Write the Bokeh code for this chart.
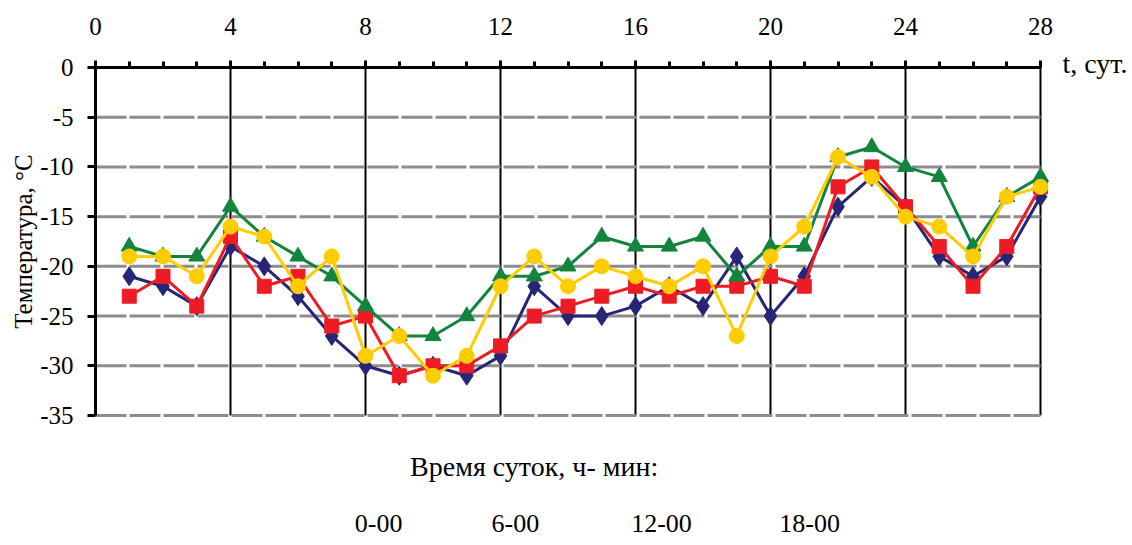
from bokeh.plotting import figure
from bokeh.models import FixedTicker, Range1d
from bokeh.core.properties import value
from bokeh.embed import file_html
from bokeh.resources import INLINE

days = list(range(1, 29))
t_0000 = [-21, -22, -24, -18, -20, -23, -27, -30, -31, -30, -31, -29, -22, -25,
          -25, -24, -22, -24, -19, -25, -21, -14, -11, -14, -19, -21, -19, -13]
t_0600 = [-23, -21, -24, -17, -22, -21, -26, -25, -31, -30, -30, -28, -25, -24,
          -23, -22, -23, -22, -22, -21, -22, -12, -10, -14, -18, -22, -18, -12]
t_1200 = [-18, -19, -19, -14, -17, -19, -21, -24, -27, -27, -25, -21, -21, -20,
          -17, -18, -18, -17, -21, -18, -18, -9, -8, -10, -11, -18, -13, -11]
t_1800 = [-19, -19, -21, -16, -17, -22, -19, -29, -27, -31, -29, -22, -19, -22,
          -20, -21, -22, -20, -27, -19, -16, -9, -11, -15, -16, -19, -13, -12]

legend_title = "Время суток,  ч- мин:"
legend_labels = ["0-00", "6-00", "12-00", "18-00"]
x_ticks = [0, 4, 8, 12, 16, 20, 24, 28]
y_ticks = [0, -5, -10, -15, -20, -25, -30, -35]
y_tick_labels = ["0", "-5", "-10", "-15", "-20", "-25", "-30", "-35"]
x_label = "t, сут."
y_label = "Температура, °C"

FONT = "Liberation Serif"

# canvas geometry (pixels); the frame covers the whole canvas and the axes are
# pinned at the data origin so that all texts can live inside the frame
W, H = 1132, 545
FL, FT, FW, FH = 95, 67, 945, 348       # plotting area of the chart
sx = FW / (x_ticks[-1] - x_ticks[0])
sy = FH / (y_ticks[0] - y_ticks[-1])
x_range = Range1d(-FL / sx, (W - FL) / sx)
y_range = Range1d(-(H - FT) / sy, FT / sy)

p = figure(width=W, height=H, x_range=x_range, y_range=y_range,
           output_backend="svg", toolbar_location=None,
           x_axis_location="above", y_axis_location="left",
           min_border_left=0, min_border_right=0, min_border_top=0, min_border_bottom=0)
p.title.visible = False
p.outline_line_color = None
p.xgrid.visible = False
p.ygrid.visible = False

# grid lines restricted to the chart area
p.segment(x0=x_ticks[1:], y0=y_ticks[-1], x1=x_ticks[1:], y1=y_ticks[0],
          line_color="black", line_width=2)
p.segment(x0=x_ticks[0], y0=y_ticks[1:], x1=x_ticks[-1], y1=y_ticks[1:],
          line_color="#8c8c8c", line_width=3, line_dash="31 3")

xa = p.xaxis[0]
xa.fixed_location = 0
xa.ticker = FixedTicker(ticks=x_ticks, minor_ticks=list(range(0, 29)))
xa.bounds = (x_ticks[0], x_ticks[-1])
xa.axis_line_width = 3
xa.axis_line_color = "black"
xa.major_tick_out = 7
xa.major_tick_in = 0
xa.minor_tick_out = 6
xa.minor_tick_in = 0
xa.major_tick_line_width = 3
xa.minor_tick_line_width = 3
xa.major_label_text_font = FONT
xa.major_label_text_font_size = "25px"
xa.major_label_text_color = "black"
xa.major_label_standoff = 26

ya = p.yaxis[0]
ya.fixed_location = 0
ya.ticker = FixedTicker(ticks=y_ticks)
ya.major_label_overrides = dict(zip(y_ticks, y_tick_labels))
ya.bounds = (y_ticks[-1], y_ticks[0])
ya.axis_line_width = 3
ya.axis_line_color = "black"
ya.major_tick_out = 8
ya.major_tick_in = 0
ya.major_tick_line_width = 3
ya.minor_tick_line_color = None
ya.major_label_text_font = FONT
ya.major_label_text_font_size = "25px"
ya.major_label_text_color = "black"
ya.major_label_standoff = 14
ya.axis_label = y_label
ya.axis_label_text_font = FONT
ya.axis_label_text_font_size = "25px"
ya.axis_label_text_font_style = "normal"
ya.axis_label_text_color = "black"
ya.axis_label_standoff = 0

series = [
    (t_0000, "#262676", "diamond", 19),
    (t_0600, "#ED1C24", "square", 14),
    (t_1200, "#13843D", "triangle", 16),
    (t_1800, "#FFCC00", "circle", 15),
]
for vals, col, mk, sz in series:
    p.line(days, vals, line_color=col, line_width=3)
    p.scatter(days, vals, marker=mk, size=sz, fill_color=col, line_color=col)

p.text(x=[28.65], y=[0.4], text=[x_label], text_font=value(FONT),
       text_font_size="28px", text_baseline="middle", text_align="left", text_color="black")
p.text(x=[13.1], y=[-40.1], text=[legend_title], text_font=value(FONT),
       text_font_size="28px", text_baseline="middle", text_align="center", text_color="black")
p.text(x=[8.39, 12.44, 16.77, 21.16], y=[-45.9] * 4, text=legend_labels, text_font=value(FONT),
       text_font_size="26px", text_baseline="middle", text_align="center", text_color="black")

open("out.html", "w").write(file_html(p, INLINE))
